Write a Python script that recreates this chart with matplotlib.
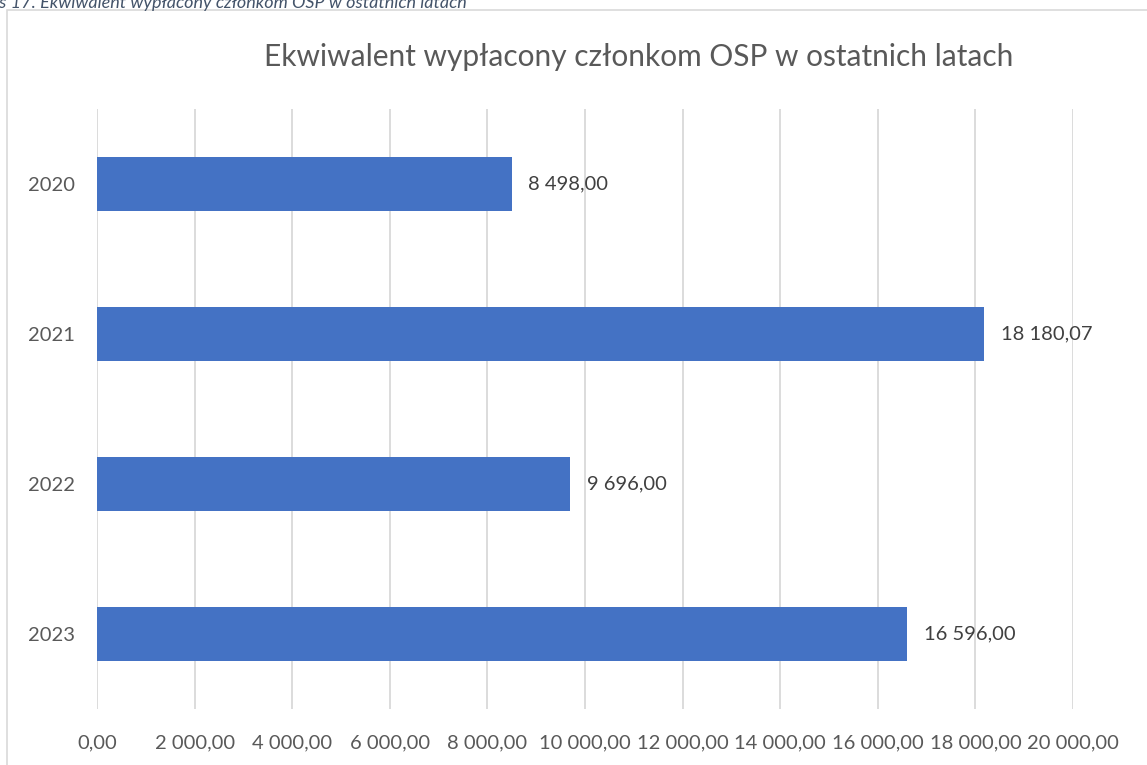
import matplotlib.pyplot as plt
from matplotlib.patches import Rectangle
from matplotlib.ticker import FuncFormatter

years = ["2020", "2021", "2022", "2023"]
amounts = [8498.00, 18180.07, 9696.00, 16596.00]
x_ticks = [0, 2000, 4000, 6000, 8000, 10000, 12000, 14000, 16000, 18000, 20000]

title = "Ekwiwalent wypłacony członkom OSP w ostatnich latach"
caption = "Wykres 17. Ekwiwalent wypłacony członkom OSP w ostatnich latach"


def pl_fmt(v, pos=None):
    # polish style: space for thousands, comma for decimals
    s = f"{v:,.2f}"
    return s.replace(",", " ").replace(".", ",")


plt.rcParams['font.family'] = ['Lato', 'DejaVu Sans']

W, H = 1147, 765
fig = plt.figure(figsize=(W / 100, H / 100), dpi=100)

# chart area frame (cut off on the right and bottom)
fig.patches.append(Rectangle((7 / W, -0.05), 1.2, 1 - 10 / H + 0.05,
                             transform=fig.transFigure, fill=False,
                             edgecolor="#D9D9D9", lw=1.2))

# caption above the chart, half cut off like in the source page
fig.text(-50 / W, 1 - 3 / H, caption, fontsize=13, style="italic",
         color="#44546A", ha="left", va="center")

ax = fig.add_axes([97 / W, 1 - 709 / H, (1073 - 97) / W, (709 - 109) / H])
ypos = range(len(years))
ax.barh(ypos, amounts, height=0.355, color="#4472C4", zorder=3)
ax.set_ylim(len(years) - 0.5, -0.5)
ax.set_yticks(list(ypos))
ax.set_yticklabels(years)
ax.set_xlim(0, 20000)
ax.set_xticks(x_ticks)
ax.xaxis.set_major_formatter(FuncFormatter(pl_fmt))
ax.grid(axis="x", color="#D9D9D9", lw=1.3, zorder=0)
for s in ax.spines.values():
    s.set_visible(False)
ax.tick_params(axis="both", length=0, labelsize=14.5, labelcolor="#595959")
ax.tick_params(axis="y", pad=16)
ax.tick_params(axis="x", pad=18)

for i, v in enumerate(amounts):
    ax.annotate(pl_fmt(v), (v, i), xytext=(12, 0), textcoords="offset points",
                va="center", ha="left", fontsize=14.5, color="#404040")

fig.text(639 / W, 1 - 57 / H, title, fontsize=21.5, color="#595959",
         ha="center", va="center")

fig.savefig("out.png", dpi=100)
